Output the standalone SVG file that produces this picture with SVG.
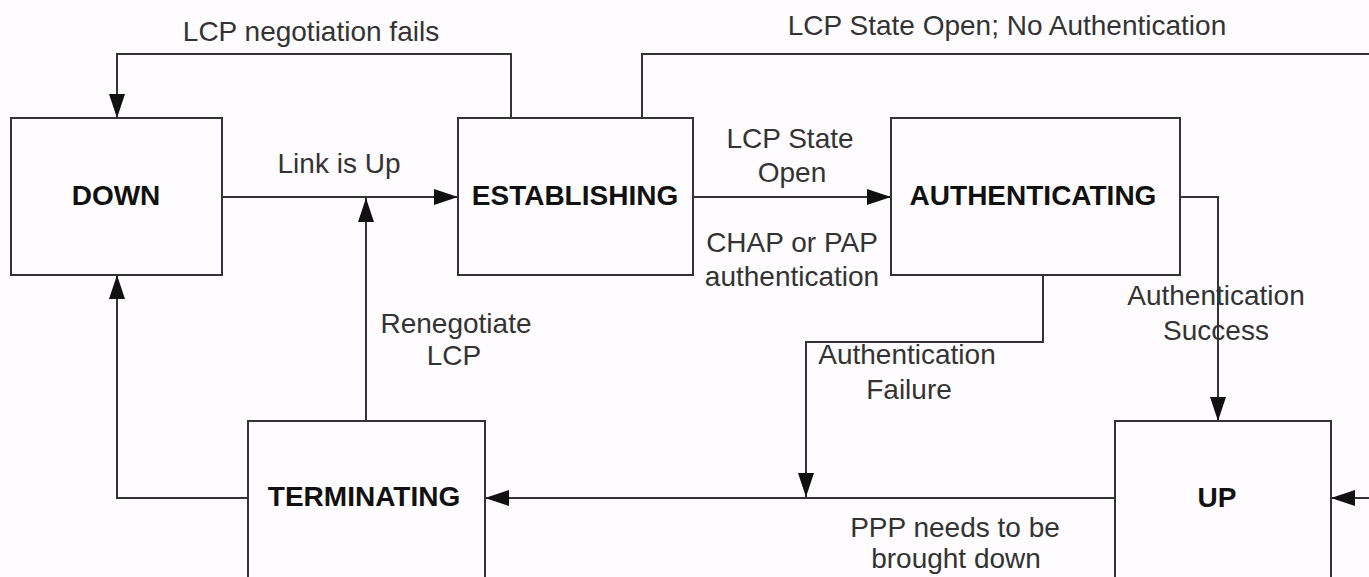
<svg xmlns="http://www.w3.org/2000/svg" width="1369" height="577" viewBox="0 0 1369 577">
<style>
.box{fill:#fefcfe;stroke:#333;stroke-width:2}
.name{font-family:"Liberation Sans",Arial,sans-serif;font-size:28px;font-weight:bold;fill:#111;text-anchor:middle}
.lbl{font-family:"Liberation Sans",Arial,sans-serif;font-size:28px;fill:#333;text-anchor:middle}
.c{fill:none;stroke:#333;stroke-width:2}
</style>
<defs>
<marker id="ah" markerUnits="userSpaceOnUse" markerWidth="24" markerHeight="16" refX="24" refY="8" orient="auto">
<path d="M0,0 L24,8 L0,16 z" fill="#111"/>
</marker>
</defs>
<rect width="1369" height="577" fill="#fefcfe"/>
<g id="connectors">
<path class="c" d="M511,118 V54 H117 V118" marker-end="url(#ah)"/>
<path class="c" d="M642,118 V54 H1370"/>
<path class="c" d="M1370,498 H1331" marker-end="url(#ah)"/>
<path class="c" d="M222,197 H458" marker-end="url(#ah)"/>
<path class="c" d="M366,421 V198" marker-end="url(#ah)"/>
<path class="c" d="M693,197 H891" marker-end="url(#ah)"/>
<path class="c" d="M1180,197 H1218 V421" marker-end="url(#ah)"/>
<path class="c" d="M1043,275 V342 H806 V497" marker-end="url(#ah)"/>
<path class="c" d="M1115,498 H485" marker-end="url(#ah)"/>
<path class="c" d="M248,498 H117 V275" marker-end="url(#ah)"/>
</g>
<g id="labels">
<text class="lbl" x="311" y="41">LCP negotiation fails</text>
<text class="lbl" x="1007" y="35">LCP State Open; No Authentication</text>
<text class="lbl" x="339" y="173">Link is Up</text>
<text class="lbl" x="790" y="148">LCP State</text>
<text class="lbl" x="792" y="182">Open</text>
<text class="lbl" x="792" y="252">CHAP or PAP</text>
<text class="lbl" x="792" y="286">authentication</text>
<text class="lbl" x="456" y="333">Renegotiate</text>
<text class="lbl" x="454" y="365">LCP</text>
<text class="lbl" x="907" y="364">Authentication</text>
<text class="lbl" x="909" y="399">Failure</text>
<text class="lbl" x="1216" y="305">Authentication</text>
<text class="lbl" x="1216" y="340">Success</text>
<text class="lbl" x="955" y="537">PPP needs to be</text>
<text class="lbl" x="956" y="568">brought down</text>
</g>
<g id="node-down">
<rect class="box" x="11" y="118" width="211" height="157"/>
<text class="name" x="116" y="205">DOWN</text>
</g>
<g id="node-establishing">
<rect class="box" x="458" y="118" width="235" height="157"/>
<text class="name" x="575" y="205">ESTABLISHING</text>
</g>
<g id="node-authenticating">
<rect class="box" x="891" y="118" width="289" height="157"/>
<text class="name" x="1033" y="205">AUTHENTICATING</text>
</g>
<g id="node-terminating">
<rect class="box" x="248" y="421" width="237" height="170"/>
<text class="name" x="364" y="506">TERMINATING</text>
</g>
<g id="node-up">
<rect class="box" x="1115" y="421" width="216" height="170"/>
<text class="name" x="1217" y="507">UP</text>
</g>
</svg>
